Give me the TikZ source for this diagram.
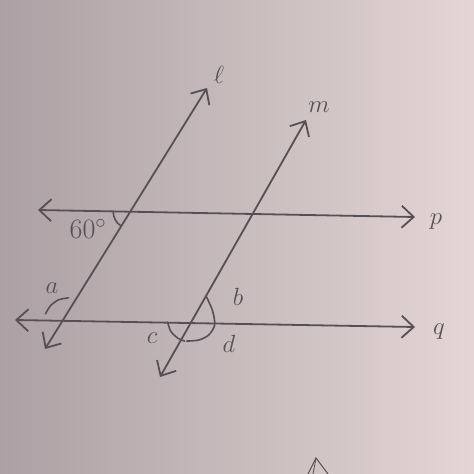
\documentclass[tikz,border=0pt]{standalone}
\usetikzlibrary{arrows.meta,intersections}
\definecolor{paperL}{RGB}{172,160,164}
\definecolor{paperR}{RGB}{228,214,213}
\definecolor{pencil}{RGB}{86,80,86}
\begin{document}
\begin{tikzpicture}[x=1pt,y=1pt,
  tipb/.tip={Straight Barb[length=12pt,width=22pt]},
  ln/.style={draw=pencil, line width=1.8pt, line cap=round, tipb-tipb},
  ang/.style={draw=pencil, line width=1.6pt, line cap=round},
  lab/.style={text=pencil, font=\fontsize{33}{35}\selectfont, inner sep=0pt}]
\shade[left color=paperL, right color=paperR] (0,0) rectangle (474,474);
\useasboundingbox (0,0) rectangle (474,474);
% end points
\coordinate (pL) at (38,264);
\coordinate (pR) at (415,257);
\coordinate (qL) at (15,154);
\coordinate (qR) at (415,147);
\coordinate (lB) at (45,125);
\coordinate (lT) at (207,386);
\coordinate (mB) at (160,97);
\coordinate (mT) at (306,354);
% lines
\draw[ln, name path=p] (pL) -- (pR);
\draw[ln, name path=q] (qL) -- (qR);
\draw[ln, name path=l] (lB) -- (lT);
\draw[ln, name path=m] (mB) -- (mT);
\path[name intersections={of=l and p, by=X1}];
\path[name intersections={of=l and q, by=X2}];
\path[name intersections={of=m and q, by=X3}];
% angle marks
\draw[ang, shift={(X1)}] (180:17) arc[start angle=180, end angle=236, radius=17];
\draw[ang, shift={(X2)}] plot[smooth] coordinates {(-17,7) (-12,15) (-4,21) (6,23)};
\draw[ang, shift={(X3)}] plot[smooth] coordinates {(16,26) (22,12) (24,-2) (18,-12) (8,-17) (-4,-18)};
\draw[ang, shift={(X3)}] plot[smooth] coordinates {(-23,1) (-20,-8) (-13,-15) (-6,-18)};
% labels
\node[lab] (tl) at (219,399) {$\ell$};
\node[lab] (tm) at (319,367) {$m$};
\node[lab] (tp) at (436,252) {$p$};
\node[lab] (tq) at (439,142) {$q$};
\node[lab, font=\fontsize{28}{30}\selectfont] (t60) at (88,245) {60$^{\circ}$};
\node[lab] (ta) at (52,186) {$a$};
\node[lab] (tb) at (238,177) {$b$};
\node[lab] (tc) at (152,136) {$c$};
\node[lab] (td) at (229,130) {$d$};
% pencil mark at the bottom edge
\draw[draw=pencil, line width=1pt] (308,0) -- (316,16) -- (328,0);
\draw[draw=pencil, line width=0.8pt] (316,16) -- (313,0);
\end{tikzpicture}
\end{document}
